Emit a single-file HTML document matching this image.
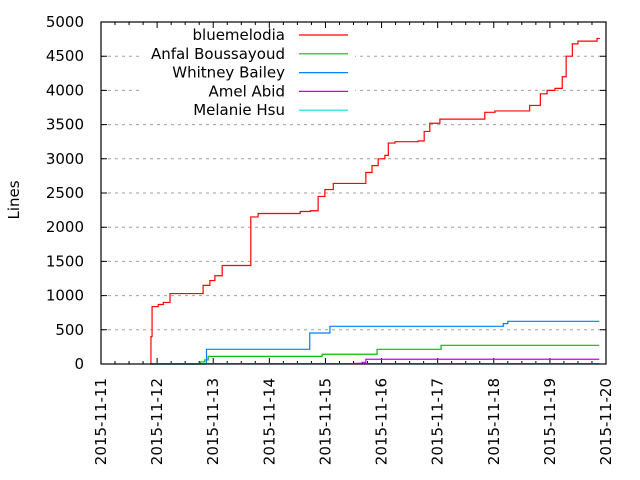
<!DOCTYPE html>
<html><head><meta charset="utf-8"><style>
body{margin:0;background:#fff}
svg{display:block;font-family:"DejaVu Sans","Liberation Sans",sans-serif}
</style></head><body>
<svg id="c" width="640" height="480"></svg>
<script>
const tickDays=[0,1,2,3,4,5,6,7,8,9];
const tickLabels=["2015-11-11","2015-11-12","2015-11-13","2015-11-14","2015-11-15","2015-11-16","2015-11-17","2015-11-18","2015-11-19","2015-11-20"];
const yTicks=[0,500,1000,1500,2000,2500,3000,3500,4000,4500,5000];
const seriesNames=["bluemelodia","Anfal Boussayoud","Whitney Bailey","Amel Abid","Melanie Hsu"];
const seriesColors=["#ff0000","#00c000","#0080ff","#c000ff","#00e0e0"];
const redDays=[0.87,0.89,0.91,1.02,1.11,1.23,1.76,1.82,1.94,2.03,2.16,2.62,2.67,2.80,3.55,3.73,3.87,3.99,4.14,4.67,4.72,4.83,4.94,5.06,5.12,5.24,5.65,5.76,5.86,6.04,6.77,6.84,7.02,7.59,7.64,7.77,7.83,7.95,8.09,8.22,8.29,8.40,8.50,8.82,8.84,8.89];
const redVals=[0,400,840,870,900,1030,1030,1150,1220,1290,1440,1440,2150,2200,2230,2240,2450,2550,2640,2640,2800,2900,3000,3050,3230,3250,3260,3400,3520,3580,3580,3680,3700,3700,3780,3780,3950,4000,4030,4200,4500,4680,4720,4720,4760,4760];
const greenDays=[0.9,1.76,1.77,1.85,1.91,3.94,4.92,6.06,8.88];
const greenVals=[0,0,30,60,112,142,215,273,273];
const blueDays=[0.9,1.88,3.72,4.08,7.11,7.17,7.25,8.88];
const blueVals=[0,215,453,551,551,590,624,624];
const purpleDays=[4.51,4.65,4.72,8.88];
const purpleVals=[10,25,69,69];
const cyanDays=[0.9,8.88];
const cyanVals=[5,5];
const stepFlags=[true,true,true,true,true];

const NS="http://www.w3.org/2000/svg";
const svg=document.getElementById('c');
const L=101,R=606,T=22,B=364;
const xs=d=>L+(R-L)*d/9;
const ys=v=>B-(B-T)*v/5000;
function mk(t,a,p){const e=document.createElementNS(NS,t);for(const k in a)e.setAttribute(k,a[k]);(p||svg).appendChild(e);return e;}

yTicks.forEach((v,i)=>{
  if(v>0&&v<5000){
    const g=mk('line',{x1:L,x2:R,y1:ys(v),y2:ys(v),stroke:'#a0a0a0','stroke-dasharray':'3,4','stroke-width':1});
    
    
  }
  const tk=mk('path',{d:`M${L} ${ys(v)}h6M${R} ${ys(v)}h-6`,stroke:'#000'});
  
  
  const t=mk('text',{x:84,y:ys(v)+5,'text-anchor':'end','font-size':15,fill:'#000'});
  t.textContent=v;
  
  
});
const lb=mk('rect',{x:140,y:24,width:215,height:96,fill:'#fff'});



tickDays.forEach((d,i)=>{
  const x=xs(d);
  const tk=mk('path',{d:`M${x} ${B}v-6M${x} ${T}v6`,stroke:'#000'});
  
  
  if(i<9){for(let q=1;q<4;q++){const xm=xs(d+q/4);const m=mk('path',{d:`M${xm} ${B}v-3M${xm} ${T}v3`,stroke:'#000'});
    
    }}
  const t=mk('text',{x:0,y:0,'text-anchor':'end','font-size':15,fill:'#000',transform:`translate(${x+5},${378}) rotate(-90)`});
  t.textContent=tickLabels[i];
  
  
});

const allDays=[redDays,greenDays,blueDays,purpleDays,cyanDays];
const allVals=[redVals,greenVals,blueVals,purpleVals,cyanVals];
allDays.forEach((ds,s)=>{
  const vs=allVals[s];let pts=[];
  ds.forEach((d,i)=>{
    if(stepFlags[s]&&i>0)pts.push(xs(d)+','+ys(vs[i-1]));
    pts.push(xs(d)+','+ys(vs[i]));
  });
  const p=mk('polyline',{points:pts.join(' '),fill:'none',stroke:seriesColors[s],'stroke-width':1.2});
  
  
});

seriesNames.forEach((n,i)=>{
  const y=35+i*18.8;
  const t=mk('text',{x:285,y:y+5,'text-anchor':'end','font-size':15,fill:'#000'});
  t.textContent=n;
  
  
  const l=mk('line',{x1:299,x2:348,y1:y,y2:y,stroke:seriesColors[i],'stroke-width':1.2});
  
  
});

const fr=mk('rect',{x:L,y:T,width:R-L,height:B-T,fill:'none',stroke:'#000','stroke-width':1.2});


const yl=mk('text',{x:0,y:0,'text-anchor':'middle','font-size':15,fill:'#000',transform:'translate(19,200) rotate(-90)'});
yl.textContent='Lines';


</script>
</body></html>
